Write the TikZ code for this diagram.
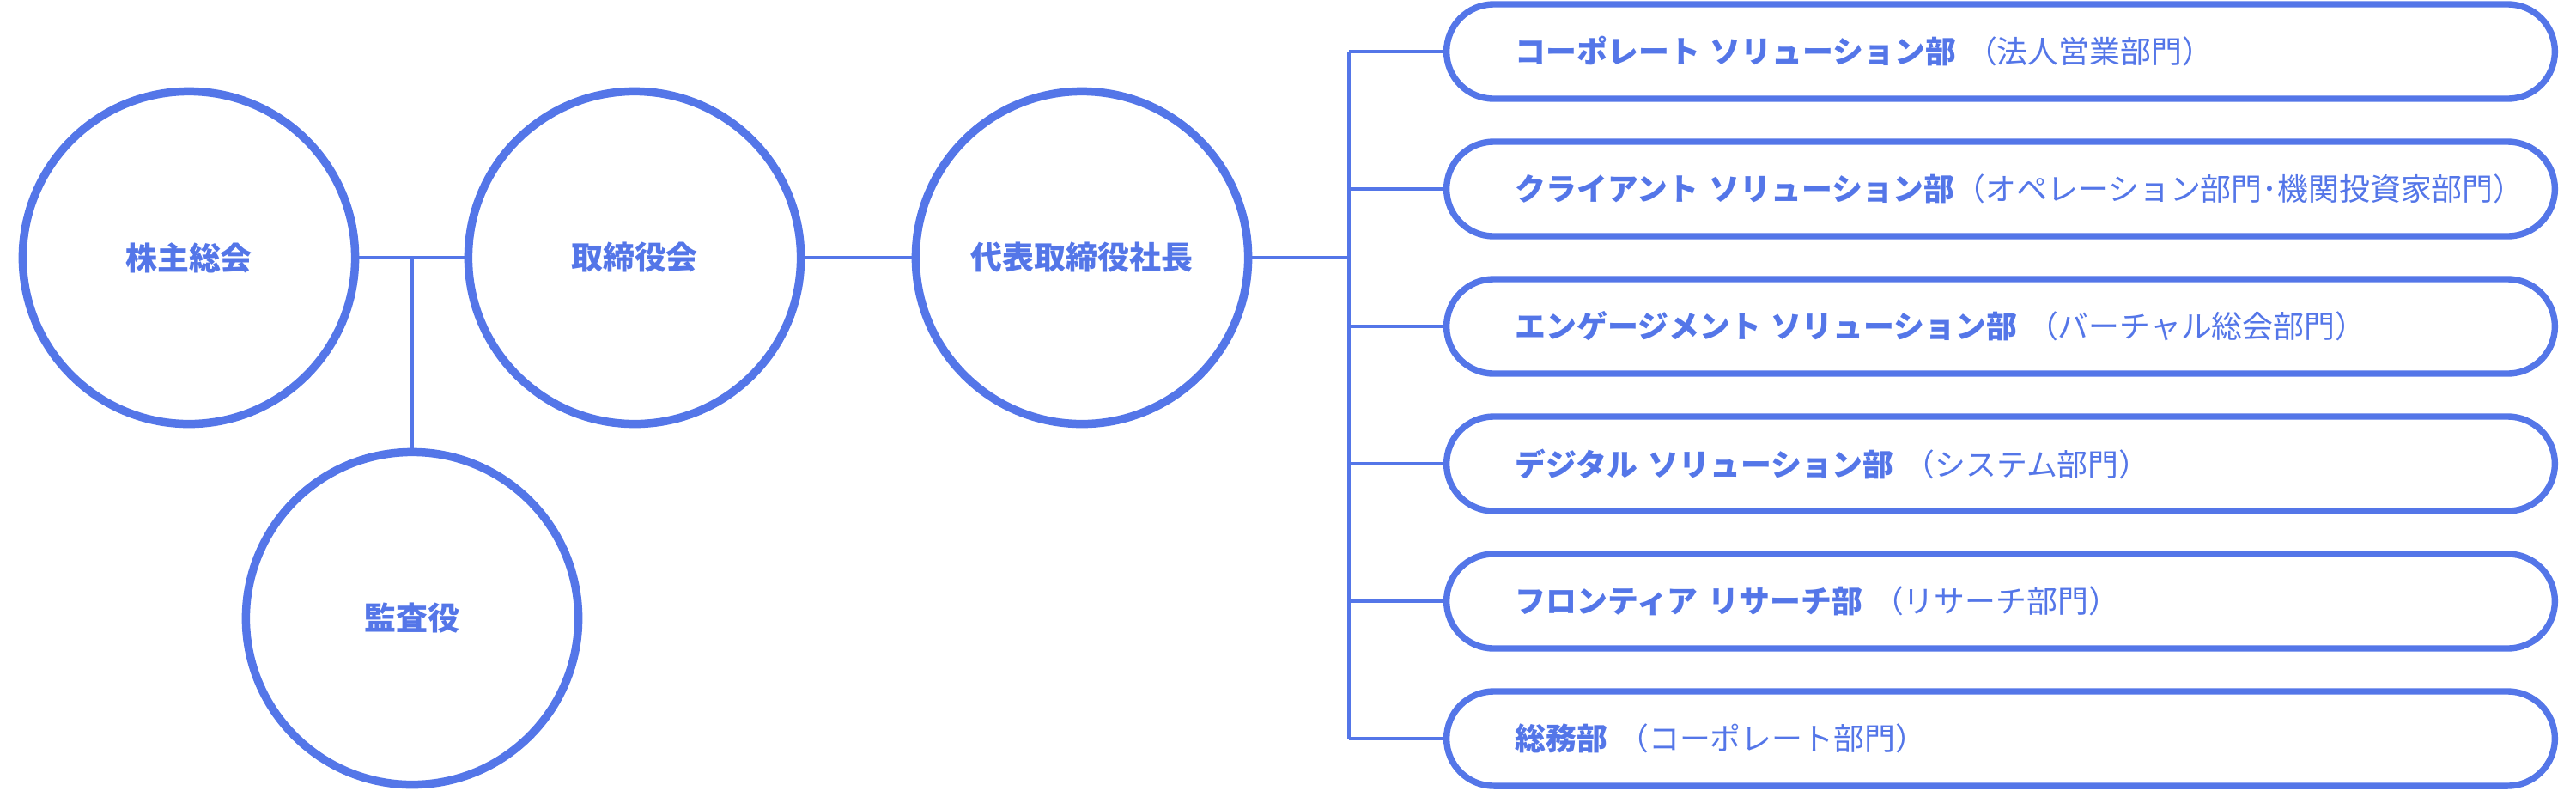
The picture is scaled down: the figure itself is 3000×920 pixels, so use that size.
\documentclass[tikz,border=0pt]{standalone}
\usepackage{fontspec}
\setmainfont{Noto Sans CJK JP}
\usetikzlibrary{calc}
\definecolor{corp}{RGB}{84,118,232}
\tikzset{org/.style={draw=corp, line width=2.7pt, circle, minimum size=3.87cm, inner sep=0pt, text=corp, font=\bfseries\fontsize{10.5}{13}\selectfont},
  dept/.style={draw=corp, line width=2.1pt, rounded corners=0.55cm, minimum height=1.10cm, text width=11.30cm, inner xsep=0.8cm, inner ysep=0pt, align=left, text=corp, font=\fontsize{10.2}{13}\selectfont},
  link/.style={draw=corp, line width=1.1pt}}

\begin{document}
\begin{tikzpicture}[x=0.01cm, y=-0.01cm]
  \useasboundingbox (0,0) rectangle (3000,920);
  \node[org] (sh) at (220,300) {株主総会};
  \node[org] (bod) at (739,300) {取締役会};
  \node[org] (aud) at (480,720) {監査役};
  \node[org] (ceo) at (1260,300) {代表取締役社長};
  % departments
  \node[dept] (d1) at (2330,60) {{\bfseries コーポレート ソリューション部} （法人営業部門）};
  \node[dept] (d2) at (2330,220) {{\bfseries クライアント ソリューション部}（オペレーション部門･機関投資家部門）};
  \node[dept] (d3) at (2330,380) {{\bfseries エンゲージメント ソリューション部} （バーチャル総会部門）};
  \node[dept] (d4) at (2330,540) {{\bfseries デジタル ソリューション部} （システム部門）};
  \node[dept] (d5) at (2330,700) {{\bfseries フロンティア リサーチ部} （リサーチ部門）};
  \node[dept] (d6) at (2330,860) {{\bfseries 総務部} （コーポレート部門）};
  \coordinate (j) at (480,300);
  \coordinate (bus) at (1571,300);
  \draw[link] (sh) -- (bod);
  \draw[link] (j) -- (aud);
  \draw[link] (bod) -- (ceo);
  \draw[link] (ceo) -- (bus);
  \draw[link] (bus |- d1) -- (bus |- d6);
  \foreach \i in {1,...,6}
    \draw[link] (bus |- d\i) -- (d\i.west);
\end{tikzpicture}
\end{document}
